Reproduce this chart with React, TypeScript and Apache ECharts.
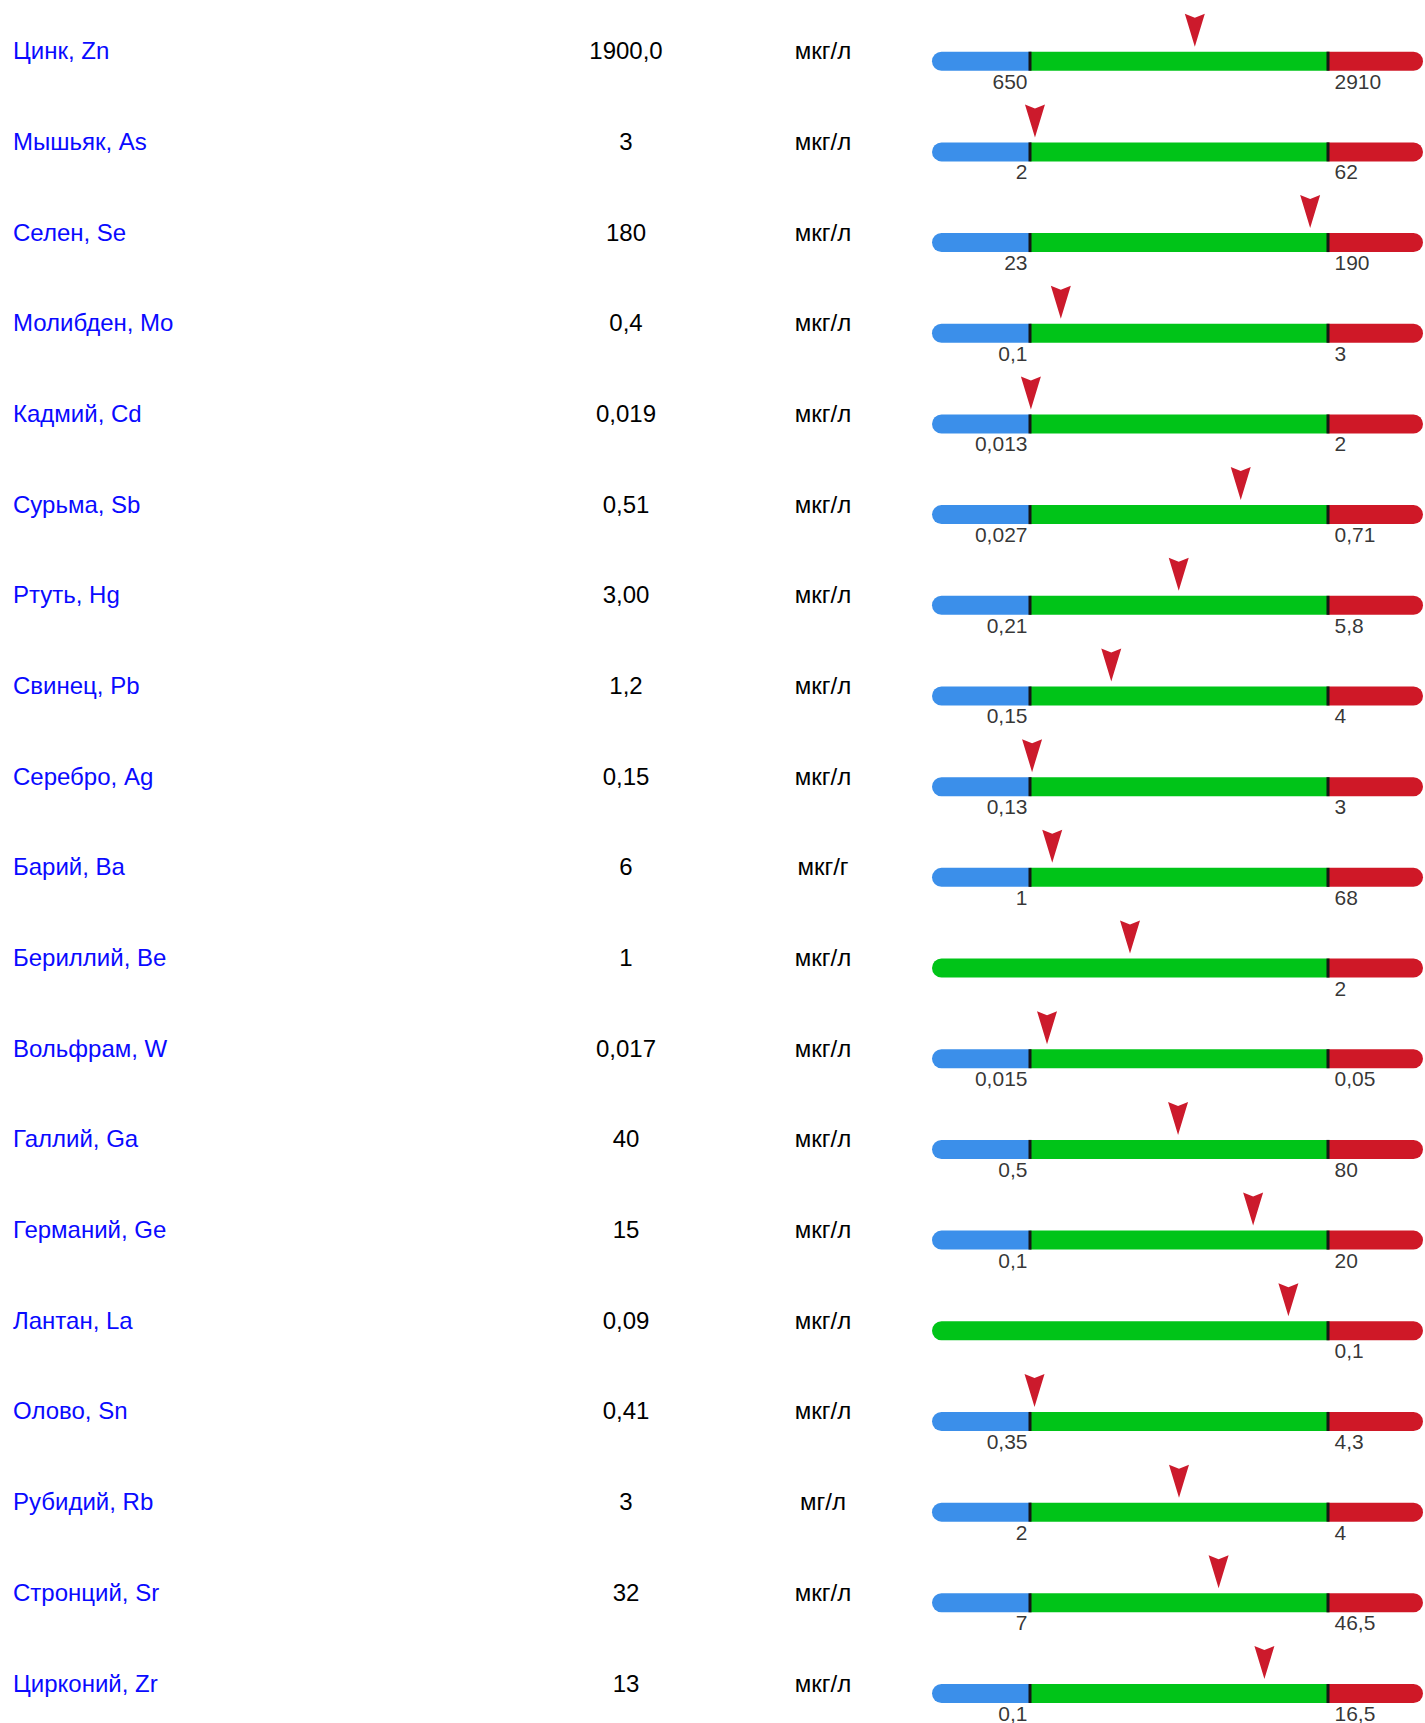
import React, { useEffect, useRef } from "react";
import * as echarts from "echarts";

// ---- data ----
const names = [
  "Цинк, Zn", "Мышьяк, As", "Селен, Se", "Молибден, Mo", "Кадмий, Cd",
  "Сурьма, Sb", "Ртуть, Hg", "Свинец, Pb", "Серебро, Ag", "Барий, Ba",
  "Бериллий, Be", "Вольфрам, W", "Галлий, Ga", "Германий, Ge", "Лантан, La",
  "Олово, Sn", "Рубидий, Rb", "Стронций, Sr", "Цирконий, Zr",
];
const valueTexts = [
  "1900,0", "3", "180", "0,4", "0,019",
  "0,51", "3,00", "1,2", "0,15", "6",
  "1", "0,017", "40", "15", "0,09",
  "0,41", "3", "32", "13",
];
const units = [
  "мкг/л", "мкг/л", "мкг/л", "мкг/л", "мкг/л",
  "мкг/л", "мкг/л", "мкг/л", "мкг/л", "мкг/г",
  "мкг/л", "мкг/л", "мкг/л", "мкг/л", "мкг/л",
  "мкг/л", "мг/л", "мкг/л", "мкг/л",
];
const lowTexts: (string | null)[] = [
  "650", "2", "23", "0,1", "0,013",
  "0,027", "0,21", "0,15", "0,13", "1",
  null, "0,015", "0,5", "0,1", null,
  "0,35", "2", "7", "0,1",
];
const highTexts = [
  "2910", "62", "190", "3", "2",
  "0,71", "5,8", "4", "3", "68",
  "2", "0,05", "80", "20", "0,1",
  "4,3", "4", "46,5", "16,5",
];

const num = (s: string) => parseFloat(s.replace(",", "."));

// ---- layout / style constants ----
const W = 1425;
const H = 1723;
const BLUE_SHARE = 98 / 298; // width of the blue part relative to the green (norm) part
const RED_SHARE = 95 / 298;
const FONT = "'Liberation Sans', Arial, sans-serif";
const C_BLUE = "#3b8fea";
const C_GREEN = "#00c418";
const C_RED = "#cf1827";
const C_MARK = "#cc1a2c";
const C_NAME = "#0a0aff";
const C_TEXT = "#000000";
const RAD = 9.5;

export default function App() {
  const ref = useRef<HTMLDivElement>(null);

  useEffect(() => {
    if (!ref.current) return;
    const chart = echarts.init(ref.current, undefined, { renderer: "svg" });
    const n = names.length;
    const idx = names.map((_, i) => i);
    const rowH = H / n;
    const barTop = 61.2 - rowH / 2;
    const textTop = barTop - 10.5;

    const blueData = idx.map((i) =>
      lowTexts[i] === null
        ? 0
        : { value: BLUE_SHARE, itemStyle: { borderRadius: [RAD, 0, 0, RAD] } }
    );
    const greenData = idx.map((i) =>
      lowTexts[i] === null
        ? { value: BLUE_SHARE + 1, itemStyle: { borderRadius: [RAD, 0, 0, RAD] } }
        : 1
    );
    const redData = idx.map(() => ({
      value: RED_SHARE,
      itemStyle: { borderRadius: [0, RAD, RAD, 0] },
    }));

    const markerData = idx.map((i) => {
      const v = num(valueTexts[i]);
      const hi = num(highTexts[i]);
      const lo = lowTexts[i];
      const x =
        lo === null
          ? (v / hi) * (BLUE_SHARE + 1)
          : BLUE_SHARE + (v - num(lo)) / (hi - num(lo));
      return [x, i];
    });

    const sepData: number[][] = [];
    idx.forEach((i) => {
      if (lowTexts[i] !== null) sepData.push([BLUE_SHARE, i]);
      sepData.push([BLUE_SHARE + 1, i]);
    });

    const lowLabelData = idx
      .filter((i) => lowTexts[i] !== null)
      .map((i) => ({ value: [BLUE_SHARE, i], name: lowTexts[i] as string }));
    const highLabelData = idx.map((i) => ({
      value: [BLUE_SHARE + 1, i],
      name: highTexts[i],
    }));

    const labelStyle = {
      show: true,
      formatter: "{b}",
      fontSize: 21,
      fontFamily: FONT,
      color: C_TEXT,
    };

    chart.setOption({
      animation: false,
      grid: [
        { left: 932, width: 491, top: barTop, height: H, outerBoundsMode: "none", containLabel: false },
        { left: 932, width: 491, top: textTop, height: H, outerBoundsMode: "none", containLabel: false },
      ],
      xAxis: [
        { type: "value", gridIndex: 0, min: 0, max: BLUE_SHARE + 1 + RED_SHARE, show: false },
        { type: "value", gridIndex: 1, min: 0, max: 1, show: false },
      ],
      yAxis: [
        { type: "category", gridIndex: 0, data: idx, inverse: true, show: false },
        {
          type: "category",
          gridIndex: 1,
          data: idx,
          inverse: true,
          axisLine: { show: false },
          axisTick: { show: false },
          splitLine: { show: false },
          axisLabel: {
            margin: 919,
            align: "left",
            formatter: (_: any, i: number) =>
              `{n|${names[i]}}{v|${valueTexts[i]}}{u|${units[i]}}`,
            rich: {
              n: { width: 543, align: "left", fontSize: 24, fontFamily: FONT, color: C_NAME },
              v: { width: 140, align: "center", fontSize: 24, fontFamily: FONT, color: C_TEXT },
              u: { width: 254, align: "center", fontSize: 24, fontFamily: FONT, color: C_TEXT },
            },
          },
        },
      ],
      series: [
        {
          type: "bar", stack: "s", barWidth: 19, data: blueData,
          itemStyle: { color: C_BLUE }, silent: true, xAxisIndex: 0, yAxisIndex: 0,
        },
        {
          type: "bar", stack: "s", barWidth: 19, data: greenData,
          itemStyle: { color: C_GREEN }, silent: true, xAxisIndex: 0, yAxisIndex: 0,
        },
        {
          type: "bar", stack: "s", barWidth: 19, data: redData,
          itemStyle: { color: C_RED }, silent: true, xAxisIndex: 0, yAxisIndex: 0,
        },
        {
          type: "scatter", data: sepData, symbol: "rect", symbolSize: [3, 19],
          itemStyle: { color: "#151515", opacity: 1 }, z: 3, silent: true,
        },
        {
          type: "scatter", data: markerData,
          symbol: "path://M0,0 L10,4 L20,0 L10,33 Z",
          symbolSize: [20, 33], symbolOffset: [0, -31],
          itemStyle: { color: C_MARK, opacity: 1 }, z: 4, silent: true,
        },
        {
          type: "scatter", data: lowLabelData, symbolSize: 1,
          itemStyle: { color: "rgba(0,0,0,0)" }, silent: true, z: 5,
          label: { ...labelStyle, position: "left", distance: 2, offset: [0, 20] },
        },
        {
          type: "scatter", data: highLabelData, symbolSize: 1,
          itemStyle: { color: "rgba(0,0,0,0)" }, silent: true, z: 5,
          label: { ...labelStyle, position: "right", distance: 6, offset: [0, 20] },
        },
      ],
    });

    return () => chart.dispose();
  }, []);

  return (
    <div
      ref={ref}
      style={{ position: "absolute", left: 0, top: 0, width: W, height: H, background: "#fff" }}
    />
  );
}
